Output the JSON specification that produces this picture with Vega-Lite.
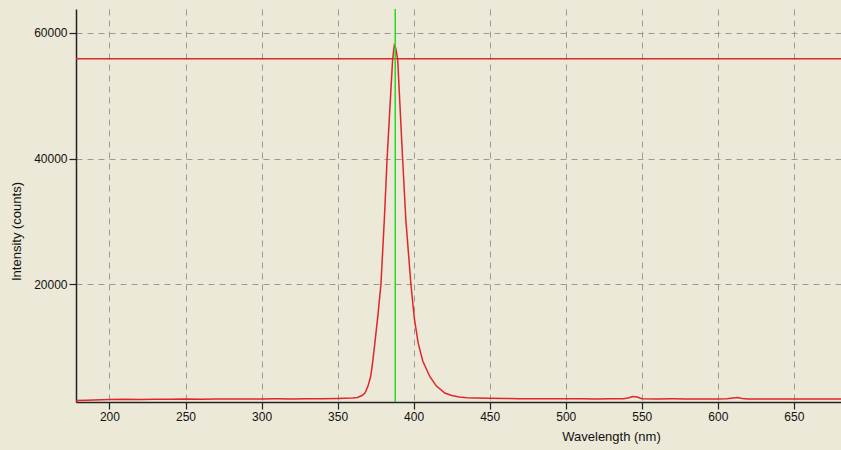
{
  "$schema": "https://vega.github.io/schema/vega-lite/v6.json",
  "width": 765,
  "height": 393,
  "autosize": "none",
  "padding": {"left": 76, "top": 9, "right": 0, "bottom": 48},
  "background": "#ECE9D8",
  "config": {
    "view": {"stroke": null, "fill": "#ECE9D8"},
    "font": "Liberation Sans",
    "axis": {
      "labelFont": "Liberation Sans",
      "titleFont": "Liberation Sans",
      "labelFontSize": 12,
      "titleFontSize": 13,
      "titleFontWeight": "normal",
      "labelColor": "#111111",
      "titleColor": "#111111",
      "domainColor": "#222222",
      "domainWidth": 1.5,
      "tickColor": "#222222",
      "tickSize": 7,
      "tickWidth": 1.2,
      "gridColor": "#9a9a9a",
      "gridDash": [6, 5],
      "gridWidth": 1
    }
  },
  "layer": [
    {
      "data": {"values": [
        {"wavelength": 178, "intensity": 1500},
        {"wavelength": 185, "intensity": 1550},
        {"wavelength": 190, "intensity": 1600},
        {"wavelength": 200, "intensity": 1650},
        {"wavelength": 210, "intensity": 1700},
        {"wavelength": 220, "intensity": 1680},
        {"wavelength": 230, "intensity": 1720},
        {"wavelength": 240, "intensity": 1700},
        {"wavelength": 250, "intensity": 1740},
        {"wavelength": 260, "intensity": 1720},
        {"wavelength": 270, "intensity": 1760},
        {"wavelength": 280, "intensity": 1740},
        {"wavelength": 290, "intensity": 1760},
        {"wavelength": 300, "intensity": 1750},
        {"wavelength": 310, "intensity": 1770},
        {"wavelength": 320, "intensity": 1760},
        {"wavelength": 330, "intensity": 1780},
        {"wavelength": 340, "intensity": 1800},
        {"wavelength": 350, "intensity": 1820},
        {"wavelength": 355, "intensity": 1850},
        {"wavelength": 360, "intensity": 1900},
        {"wavelength": 363, "intensity": 2000},
        {"wavelength": 366, "intensity": 2300},
        {"wavelength": 368, "intensity": 2700},
        {"wavelength": 370, "intensity": 3800},
        {"wavelength": 371.7, "intensity": 5290},
        {"wavelength": 373, "intensity": 7500},
        {"wavelength": 374.5, "intensity": 10640},
        {"wavelength": 376.5, "intensity": 15000},
        {"wavelength": 378.5, "intensity": 20000},
        {"wavelength": 380.7, "intensity": 30160},
        {"wavelength": 382.6, "intensity": 40200},
        {"wavelength": 384.5, "intensity": 48500},
        {"wavelength": 386.2, "intensity": 55820},
        {"wavelength": 387.3, "intensity": 58000},
        {"wavelength": 388.2, "intensity": 57600},
        {"wavelength": 389.5, "intensity": 55820},
        {"wavelength": 391, "intensity": 48500},
        {"wavelength": 392.7, "intensity": 40200},
        {"wavelength": 394.9, "intensity": 30160},
        {"wavelength": 398.2, "intensity": 20000},
        {"wavelength": 400.5, "intensity": 14500},
        {"wavelength": 403, "intensity": 10640},
        {"wavelength": 406, "intensity": 7800},
        {"wavelength": 410.7, "intensity": 5290},
        {"wavelength": 415, "intensity": 3800},
        {"wavelength": 420.5, "intensity": 2700},
        {"wavelength": 425, "intensity": 2300},
        {"wavelength": 430, "intensity": 2050},
        {"wavelength": 435, "intensity": 1950},
        {"wavelength": 440, "intensity": 1900},
        {"wavelength": 450, "intensity": 1850},
        {"wavelength": 460, "intensity": 1820},
        {"wavelength": 470, "intensity": 1800},
        {"wavelength": 480, "intensity": 1790},
        {"wavelength": 490, "intensity": 1780},
        {"wavelength": 500, "intensity": 1770},
        {"wavelength": 510, "intensity": 1780},
        {"wavelength": 520, "intensity": 1760},
        {"wavelength": 530, "intensity": 1770},
        {"wavelength": 538, "intensity": 1780},
        {"wavelength": 541, "intensity": 1900},
        {"wavelength": 544, "intensity": 2150},
        {"wavelength": 547, "intensity": 2050},
        {"wavelength": 550, "intensity": 1800},
        {"wavelength": 560, "intensity": 1760},
        {"wavelength": 570, "intensity": 1770},
        {"wavelength": 580, "intensity": 1750},
        {"wavelength": 590, "intensity": 1760},
        {"wavelength": 600, "intensity": 1760},
        {"wavelength": 606, "intensity": 1780},
        {"wavelength": 610, "intensity": 1900},
        {"wavelength": 613, "intensity": 1980},
        {"wavelength": 616, "intensity": 1830},
        {"wavelength": 620, "intensity": 1760},
        {"wavelength": 630, "intensity": 1750},
        {"wavelength": 640, "intensity": 1760},
        {"wavelength": 650, "intensity": 1750},
        {"wavelength": 660, "intensity": 1760},
        {"wavelength": 670, "intensity": 1750},
        {"wavelength": 681, "intensity": 1760}
      ]},
      "mark": {"type": "line", "color": "#E0262B", "strokeWidth": 1.5, "clip": true},
      "encoding": {
        "x": {
          "field": "wavelength", "type": "quantitative",
          "scale": {"domain": [178, 681], "nice": false, "zero": false},
          "axis": {"values": [200, 250, 300, 350, 400, 450, 500, 550, 600, 650], "title": "Wavelength (nm)", "titleX": 535, "titleY": 28, "titleAlign": "center", "labelPadding": 2}
        },
        "y": {
          "field": "intensity", "type": "quantitative",
          "scale": {"domain": [1270, 63800], "nice": false, "zero": false},
          "axis": {"values": [20000, 40000, 60000], "format": "d", "title": "Intensity (counts)", "titleX": -53, "titleY": 222, "titleAlign": "center", "labelPadding": 2}
        }
      }
    },
    {
      "data": {"values": [{"level": 55900}]},
      "mark": {"type": "rule", "color": "#E0262B", "strokeWidth": 1.5},
      "encoding": {"y": {"field": "level", "type": "quantitative"}}
    },
    {
      "data": {"values": [{"marker": 387.9}]},
      "mark": {"type": "rule", "color": "#22DD22", "strokeWidth": 1.5},
      "encoding": {"x": {"field": "marker", "type": "quantitative"}}
    }
  ]
}
